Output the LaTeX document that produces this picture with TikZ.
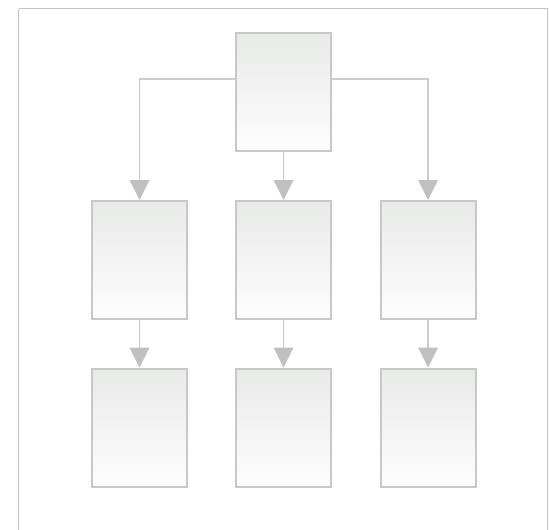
\documentclass[tikz,border=0pt]{standalone}
\usetikzlibrary{arrows.meta,calc}
\definecolor{boxline}{HTML}{C8C8C8}
\definecolor{conline}{HTML}{CCCCCC}
\definecolor{tipcol}{HTML}{C0C0C0}
\definecolor{frame}{HTML}{C4C4C4}
\definecolor{shtop}{HTML}{E8EAE8}
\definecolor{shbot}{HTML}{FDFDFD}
\tikzset{
  box/.style={draw=boxline, line width=2pt, top color=shtop, bottom color=shbot,
    minimum width=95pt, minimum height=118pt, inner sep=0pt},
  conn/.style={draw=conline, line width=1.5pt,
    -{Triangle[width=20pt,length=20pt,color=tipcol,fill=tipcol,line width=0pt]}}
}
\begin{document}
\begin{tikzpicture}[x=1pt,y=-1pt]
\useasboundingbox (0,0) rectangle (550,530);
\fill[white] (0,0) rectangle (550,530);
\draw[frame, line width=1.2pt] (18.5,8.5) -- (547.5,8.5);
\draw[frame, line width=1.2pt] (18.5,8.5) -- (18.5,540);
\draw[frame, line width=1.2pt] (547.5,8.5) -- (547.5,540);
\node[box] (top) at (283.5,92) {};
\node[box] (m1) at (139.5,260) {};
\node[box] (m2) at (283.5,260) {};
\node[box] (m3) at (428,260) {};
\node[box] (b1) at (139.5,427.5) {};
\node[box] (b2) at (283.5,427.5) {};
\node[box] (b3) at (428,427.5) {};
\coordinate (tl) at ($(top.north west)+(0,47)$);
\coordinate (tr) at ($(top.north east)+(0,47)$);
\draw[conn] (tl) -| (m1.north);
\draw[conn] (tr) -| (m3.north);
\draw[conn] (top.south) -- (m2.north);
\draw[conn] (m1.south) -- (b1.north);
\draw[conn] (m2.south) -- (b2.north);
\draw[conn] (m3.south) -- (b3.north);
\end{tikzpicture}
\end{document}
